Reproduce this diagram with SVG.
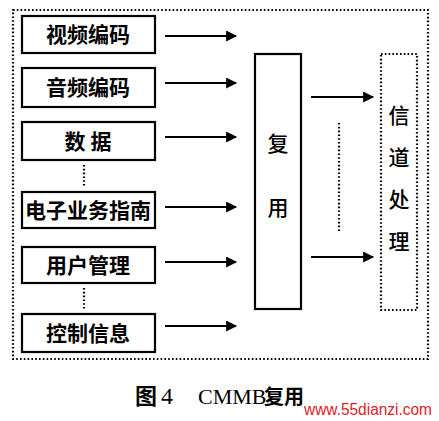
<svg xmlns="http://www.w3.org/2000/svg" width="439" height="421" viewBox="0 0 439 421">
<style>
.box{fill:#fff;stroke:#000;stroke-width:2.2}
.dot{fill:none;stroke:#000;stroke-width:2.2;stroke-dasharray:1.6 2.2}
.lbl{font-family:"Noto Sans CJK SC","Noto Sans CJK JP",sans-serif;font-size:21px;font-weight:bold;text-anchor:middle;fill:#000}
.v{font-family:"Noto Sans CJK SC","Noto Sans CJK JP",serif;font-size:21px;font-weight:500;text-anchor:middle;fill:#000}
.arr{stroke:#000;stroke-width:2.2;fill:none;marker-end:url(#ah)}
</style>
<defs>
<marker id="ah" viewBox="0 0 10 10" refX="9" refY="5" markerWidth="6" markerHeight="5" orient="auto" markerUnits="strokeWidth">
<path d="M0,0 L10,5 L0,10 z" fill="#000"/>
</marker>
</defs>
<rect width="439" height="421" fill="#fff"/>
<rect id="outer" class="dot" x="13" y="10" width="415" height="349"/>
<g id="video"><rect class="box" x="22" y="16" width="133" height="37"/><text class="lbl" x="88" y="42">视频编码</text></g>
<g id="audio"><rect class="box" x="22" y="68" width="133" height="39"/><text class="lbl" x="88" y="95">音频编码</text></g>
<g id="data"><rect class="box" x="22" y="122" width="133" height="38"/><text class="lbl" x="88" y="149">数  据</text></g>
<g id="epg"><rect class="box" x="22" y="192" width="133" height="36"/><text class="lbl" x="88" y="218">电子业务指南</text></g>
<g id="user"><rect class="box" x="22" y="247" width="133" height="36"/><text class="lbl" x="88" y="273">用户管理</text></g>
<g id="ctrl"><rect class="box" x="22" y="314" width="133" height="38"/><text class="lbl" x="88" y="341">控制信息</text></g>
<g id="mux"><rect class="box" x="255" y="54" width="46" height="255"/><text class="v" x="278" y="151">复</text><text class="v" x="278" y="215">用</text></g>
<g id="channel"><rect class="dot" x="381" y="54" width="36" height="256"/><text class="v" x="399" y="123">信</text><text class="v" x="399" y="165">道</text><text class="v" x="399" y="207">处</text><text class="v" x="399" y="249">理</text></g>
<g id="connectors">
<line class="arr" x1="165" y1="36" x2="236" y2="36"/>
<line class="arr" x1="165" y1="83" x2="236" y2="83"/>
<line class="arr" x1="165" y1="137" x2="236" y2="137"/>
<line class="arr" x1="165" y1="207" x2="236" y2="207"/>
<line class="arr" x1="165" y1="262" x2="236" y2="262"/>
<line class="arr" x1="165" y1="326" x2="236" y2="326"/>
<line class="arr" x1="311" y1="97" x2="373" y2="97"/>
<line class="arr" x1="311" y1="257" x2="373" y2="257"/>
<line class="dot" x1="84" y1="165" x2="84" y2="186"/>
<line class="dot" x1="84" y1="288" x2="84" y2="309"/>
<line class="dot" x1="339" y1="123" x2="339" y2="233" stroke-dasharray="2 6"/>
</g>
<text x="135" y="404" font-family="'Noto Sans CJK SC',serif" font-size="22" font-weight="bold">图</text>
<text x="161" y="404" font-family="'Liberation Serif',serif" font-size="24">4</text>
<text x="198" y="404" font-family="'Liberation Serif',serif" font-size="22">CMMB</text>
<text x="264" y="404" font-family="'Noto Sans CJK SC',sans-serif" font-size="20" font-weight="bold">复用</text>
<text x="304" y="415" font-family="'Liberation Sans',sans-serif" font-size="16" textLength="128" lengthAdjust="spacingAndGlyphs" fill="#e0202a">www.55dianzi.com</text>
</svg>
